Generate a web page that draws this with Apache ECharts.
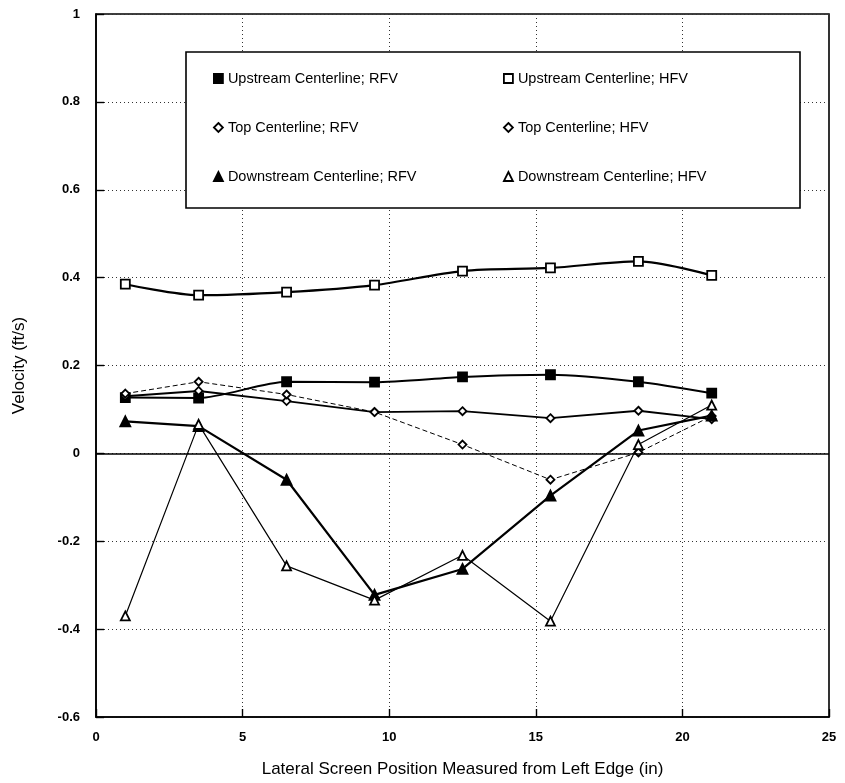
<!DOCTYPE html>
<html><head><meta charset="utf-8">
<script src="https://cdn.jsdelivr.net/npm/echarts@6/dist/echarts.min.js"></script>
<style>html,body{margin:0;padding:0;background:#fff}#c{width:845px;height:783px}</style>
</head><body><div id="c"></div>
<script>
const positions = [1, 3.5, 6.5, 9.5, 12.5, 15.5, 18.5, 21];
const upstreamRFV = [0.127, 0.126, 0.163, 0.162, 0.174, 0.179, 0.163, 0.137];
const upstreamHFV = [0.385, 0.36, 0.367, 0.383, 0.415, 0.422, 0.437, 0.405];
const topRFV = [0.13, 0.142, 0.119, 0.094, 0.096, 0.08, 0.097, 0.078];
const topHFV = [0.136, 0.163, 0.134, 0.094, 0.02, -0.06, 0.002, 0.085];
const downRFV = [0.073, 0.062, -0.06, -0.322, -0.263, -0.096, 0.052, 0.086];
const downHFV = [-0.37, 0.066, -0.256, -0.334, -0.232, -0.382, 0.02, 0.11];
const xTicks = [0, 5, 10, 15, 20, 25];
const yTicks = [-0.6, -0.4, -0.2, 0, 0.2, 0.4, 0.6, 0.8, 1];

const names = ['Upstream Centerline; RFV','Upstream Centerline; HFV','Top Centerline; RFV','Top Centerline; HFV','Downstream Centerline; RFV','Downstream Centerline; HFV'];
const pairs = a => positions.map((x,i)=>[x,a[i]]);
const F = 'Liberation Sans, Arial, sans-serif';

function mk(name, data, symbol, filled, lw, type, size, smooth, z){
  return {name, type:'line', data:pairs(data), symbol, symbolSize:size, smooth:smooth||false,
    showSymbol:true, z:z||2,
    lineStyle:{color:'#000', width:lw, type:type||'solid'},
    itemStyle:{color: filled?'#000':'#fff', borderColor:'#000', borderWidth:1.8}};
}
const series = [
  mk(names[0], upstreamRFV, 'rect', true, 2, 'solid', 9, 0.25, 3),
  mk(names[1], upstreamHFV, 'rect', false, 2.2, 'solid', 9, 0.3, 3),
  mk(names[2], topRFV, 'diamond', false, 1.8, 'solid', 8, false, 3),
  mk(names[3], topHFV, 'diamond', false, 1, [5,3], 8, false, 3),
  mk(names[4], downRFV, 'triangle', true, 2.2, 'solid', 10, false, 4),
  mk(names[5], downHFV, 'triangle', false, 1.2, 'solid', 9, false, 4)
];
series[0].markLine = {silent:true, symbol:'none', label:{show:false},
  lineStyle:{color:'#000', width:1.6, type:'solid'}, data:[{yAxis:0}]};

const icons = ['rect','rect','diamond','diamond','triangle','triangle'];
const filled = [true,false,false,false,true,false];
const legItem = i => ({name:names[i], icon:icons[i], itemStyle:{color:filled[i]?'#000':'#fff', borderColor:'#000', borderWidth:1.8}});
const legBase = {orient:'vertical', itemWidth:9, itemHeight:9, itemGap:34, selectedMode:false,
  textStyle:{fontFamily:F, fontSize:14.5, color:'#000'}, top:66};

const chart = echarts.init(document.getElementById('c'));
chart.setOption({
  animation:false,
  backgroundColor:'#fff',
  grid:{left:96, right:16, top:14, bottom:66, show:true, borderColor:'#000', borderWidth:1.6},
  xAxis:{type:'value', min:0, max:25, interval:5,
    axisLine:{show:true, onZero:false, lineStyle:{color:'#000', width:1.6}},
    axisTick:{show:true, inside:true, length:8, lineStyle:{color:'#000', width:1.4}},
    axisLabel:{fontFamily:F, fontSize:13, fontWeight:'bold', color:'#000', margin:14},
    splitLine:{show:true, lineStyle:{color:'#333', width:1, type:[1,3]}},
    name:'Lateral Screen Position Measured from Left Edge (in)', nameLocation:'middle', nameGap:44,
    nameTextStyle:{fontFamily:F, fontSize:17, color:'#000'}},
  yAxis:{type:'value', min:-0.6, max:1, interval:0.2,
    axisLine:{show:true, onZero:false, lineStyle:{color:'#000', width:1.6}},
    axisTick:{show:true, inside:true, length:8, lineStyle:{color:'#000', width:1.4}},
    axisLabel:{fontFamily:F, fontSize:13, fontWeight:'bold', color:'#000', margin:16,
      formatter:v=>String(Math.round(v*10)/10)},
    splitLine:{show:true, lineStyle:{color:'#333', width:1, type:[1,3]}},
    name:'Velocity (ft/s)', nameLocation:'middle', nameGap:68, nameRotate:90,
    nameTextStyle:{fontFamily:F, fontSize:17, color:'#000'}},
  legend:[
    Object.assign({}, legBase, {left:208, data:[legItem(0), legItem(2), legItem(4)]}),
    Object.assign({}, legBase, {left:498, data:[legItem(1), legItem(3), legItem(5)]})
  ],
  graphic:[{type:'rect', shape:{x:186, y:52, width:614, height:156}, z:1,
    style:{fill:'#fff', stroke:'#000', lineWidth:1.6}}],
  series
});
</script></body></html>
